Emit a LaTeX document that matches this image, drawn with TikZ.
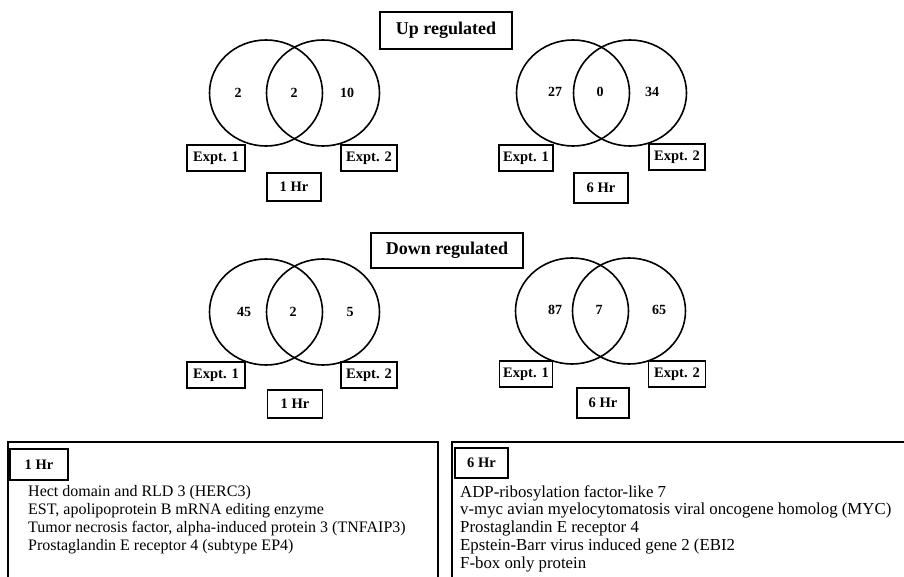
\documentclass[tikz,border=0pt]{standalone}
\usepackage{fontspec}
\setmainfont{Liberation Serif}
\usetikzlibrary{shapes.geometric}
\begin{document}
\begin{tikzpicture}[x=1pt,y=-1pt,
  venn/.style={ellipse, draw, line width=1.6pt, minimum width=113pt, minimum height=106pt, inner sep=0pt},
  num/.style={font=\bfseries\fontsize{14}{14}\selectfont, inner sep=0pt},
  lbl/.style={draw, line width=1.8pt, font=\bfseries\fontsize{14.5}{14.5}\selectfont, inner sep=0pt, minimum height=26pt},
  title/.style={draw, line width=1.8pt, font=\bfseries\fontsize{18}{18}\selectfont, inner sep=0pt},
  frame/.style={line width=2.8pt},
  listtxt/.style={align=left, inner sep=0pt, anchor=north west}]
\useasboundingbox (0,0) rectangle (904,577);
% titles
\node[title, minimum width=132pt, minimum height=37pt] (up) at (446,30.5) {Up regulated};
\node[title, minimum width=152pt, minimum height=35pt] (down) at (447,250.5) {Down regulated};
% up left
\node[venn] (ula) at (266,93) {};
\node[venn] (ulb) at (323,93) {};
\node[num] (n1) at (238,93) {2};
\node[num] (n2) at (294,93) {2};
\node[num] (n3) at (347,93) {10};
\node[lbl, minimum width=58pt] (e1) at (216,158) {Expt. 1};
\node[lbl, minimum width=56pt] (e2) at (369,158) {Expt. 2};
\node[lbl, minimum width=54pt, minimum height=28pt] (h1) at (294,187) {1 Hr};
% up right
\node[venn] (ura) at (573,93) {};
\node[venn] (urb) at (630,93) {};
\node[num] (n4) at (555,92) {27};
\node[num] (n5) at (600,92) {0};
\node[num] (n6) at (652,92) {34};
\node[lbl, minimum width=54pt] (e3) at (526,158) {Expt. 1};
\node[lbl, minimum width=56pt] (e4) at (677,157) {Expt. 2};
\node[lbl, minimum width=54pt, minimum height=30pt] (h2) at (601,188) {6 Hr};
% down left
\node[venn] (dla) at (266,312) {};
\node[venn] (dlb) at (323,312) {};
\node[num] (n7) at (244,312) {45};
\node[num] (n8) at (293,312) {2};
\node[num] (n9) at (350,312) {5};
\node[lbl, minimum width=58pt] (e5) at (216,375) {Expt. 1};
\node[lbl, minimum width=56pt] (e6) at (369,375) {Expt. 2};
\node[lbl, minimum width=55pt, minimum height=28pt] (h3) at (295,404) {1 Hr};
% down right
\node[venn] (dra) at (572,311) {};
\node[venn] (drb) at (629,311) {};
\node[num] (n10) at (555,310) {87};
\node[num] (n11) at (599,310) {7};
\node[num] (n12) at (659,310) {65};
\node[lbl, minimum width=53pt] (e7) at (526,374) {Expt. 1};
\node[lbl, minimum width=57pt] (e8) at (677,374) {Expt. 2};
\node[lbl, minimum width=52pt, minimum height=30pt] (h4) at (603,403) {6 Hr};
% list boxes
\draw[frame] (8,580) -- (8,442) -- (438,442) -- (438,580);
\draw[frame] (452,580) -- (452,442) -- (906,442);
\node[lbl, minimum width=58pt, minimum height=31pt] (l1) at (39,464.5) {1 Hr};
\node[lbl, minimum width=53pt, minimum height=30pt] (l2) at (481.5,463) {6 Hr};
\node[listtxt, font=\fontsize{16}{18.2}\selectfont] (t1) at (28,485) {Hect domain and RLD 3 (HERC3)\\EST, apolipoprotein B mRNA editing enzyme\\Tumor necrosis factor, alpha-induced protein 3 (TNFAIP3)\\Prostaglandin E receptor 4 (subtype EP4)};
\node[listtxt, font=\fontsize{16.8}{17.8}\selectfont] (t2) at (460,485) {ADP-ribosylation factor-like 7\\v-myc avian myelocytomatosis viral oncogene homolog (MYC)\\Prostaglandin E receptor 4\\Epstein-Barr virus induced gene 2 (EBI2\\F-box only protein};
\end{tikzpicture}
\end{document}
